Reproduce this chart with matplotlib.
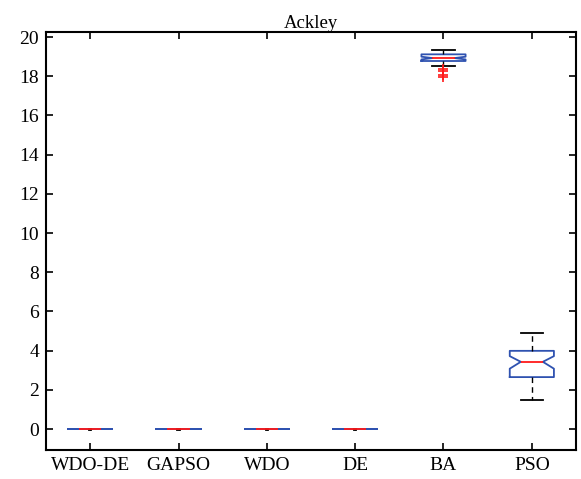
import matplotlib
matplotlib.use("Agg")
import matplotlib.pyplot as plt

plt.rcParams['font.family'] = ['Liberation Serif', 'DejaVu Serif']

algorithms = ["WDO-DE", "GAPSO", "WDO", "DE", "BA", "PSO"]
medians = [0.0, 0.0, 0.0, 0.0, 18.93, 3.43]
q1 = [0.0, 0.0, 0.0, 0.0, 18.78, 2.65]
q3 = [0.0, 0.0, 0.0, 0.0, 19.12, 3.99]
whisker_low = [-0.04, -0.04, -0.04, -0.04, 18.53, 1.48]
whisker_high = [0.0, 0.0, 0.0, 0.0, 19.33, 4.91]
notch_low = [0.0, 0.0, 0.0, 0.0, 18.86, 3.08]
notch_high = [0.0, 0.0, 0.0, 0.0, 19.0, 3.72]
outliers = [[], [], [], [], [18.37, 18.28, 18.06, 17.97], []]
yticks = [0, 2, 4, 6, 8, 10, 12, 14, 16, 18, 20]

stats = []
for i, name in enumerate(algorithms):
    stats.append(dict(label=name, med=medians[i], q1=q1[i], q3=q3[i],
                      whislo=whisker_low[i], whishi=whisker_high[i],
                      cilo=notch_low[i], cihi=notch_high[i],
                      fliers=outliers[i]))

fig = plt.figure(figsize=(5.81, 4.79), dpi=100)
ax = fig.add_axes([46 / 581, 29 / 479, 530 / 581, 418 / 479])

blue = "#2f52b0"
red = "#ff1a1a"
cap_w = [0.03, 0.03, 0.03, 0.03, 0.25, 0.25]
ax.bxp(stats, positions=range(1, 7), widths=0.5, shownotches=True,
       capwidths=cap_w,
       boxprops=dict(color=blue, linewidth=1.3),
       medianprops=dict(color=red, linewidth=1.3),
       whiskerprops=dict(color="black", linestyle=(0, (4, 3)), linewidth=1.0),
       capprops=dict(color="black", linewidth=1.3),
       flierprops=dict(marker="+", markeredgecolor=red, markersize=7.5,
                       markeredgewidth=1.2, linestyle="none"))

ax.set_xlim(0.5, 6.5)
ax.set_ylim(-1.07, 20.26)
ax.set_yticks(yticks)
ax.set_xticks(range(1, 7))
ax.set_xticklabels(algorithms)
ax.tick_params(direction="in", top=True, right=True, length=5, width=1.2,
               labelsize=14, pad=5)
for s in ax.spines.values():
    s.set_linewidth(1.5)
ax.set_title("Ackley", fontsize=13.5, pad=3)

fig.savefig("out.png", dpi=100)
